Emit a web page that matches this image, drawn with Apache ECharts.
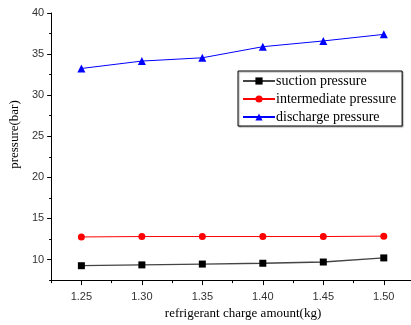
<!DOCTYPE html>
<html><head><meta charset="utf-8">
<script src="https://cdn.jsdelivr.net/npm/echarts@6/dist/echarts.min.js"></script>
<style>html,body{margin:0;padding:0;background:#fff}#c{width:411px;height:325px}</style>
</head><body><div id="c"></div>
<script>
const charge = [1.25, 1.30, 1.35, 1.40, 1.45, 1.50];
const suction = [9.25, 9.35, 9.45, 9.55, 9.7, 10.2];
const intermediate = [12.75, 12.8, 12.8, 12.8, 12.8, 12.85];
const discharge = [33.25, 34.15, 34.55, 35.9, 36.6, 37.4];
const xTickLabels = [1.25, 1.30, 1.35, 1.40, 1.45, 1.50];
const xMinorTicks = [1.225, 1.275, 1.325, 1.375, 1.425, 1.475];
const yTickLabels = [10, 15, 20, 25, 30, 35, 40];
const yMinorTicks = [7.5, 12.5, 17.5, 22.5, 27.5, 32.5, 37.5];

const labelStyle = {fontFamily: 'Liberation Sans, Arial', fontSize: 11, color: '#333'};
const nameStyle = {fontFamily: 'Liberation Serif, Times New Roman', fontSize: 13, color: '#000'};
const pair = a => a.map((v, i) => [charge[i], v]);

const chart = echarts.init(document.getElementById('c'), null, {renderer: 'canvas'});
chart.setOption({
  animation: false,
  grid: {left: 44, top: 13, right: 0, bottom: 38},
  xAxis: [{
    type: 'value', min: 1.225, max: 1.5225,
    name: 'refrigerant charge amount(kg)', nameLocation: 'middle', nameGap: 20,
    nameTextStyle: Object.assign({padding: [0, 0, 0, 24]}, nameStyle),
    axisLine: {show: true, lineStyle: {color: '#000', width: 1}},
    axisTick: {show: true, length: 5, customValues: xTickLabels, lineStyle: {color: '#000'}},
    axisLabel: Object.assign({customValues: xTickLabels, margin: 11,
      formatter: v => v.toFixed(2)}, labelStyle),
    splitLine: {show: false}
  }, {
    type: 'value', min: 1.225, max: 1.5225, position: 'bottom',
    axisLine: {show: false},
    axisTick: {show: true, length: 3, customValues: xMinorTicks, lineStyle: {color: '#000'}},
    axisLabel: {show: false}, splitLine: {show: false}
  }],
  yAxis: [{
    type: 'value', min: 7.5, max: 40,
    name: 'pressure(bar)', nameLocation: 'middle', nameGap: 25,
    nameTextStyle: Object.assign({padding: [0, 0, 0, 24]}, nameStyle),
    axisLine: {show: true, lineStyle: {color: '#000', width: 1}},
    axisTick: {show: true, length: 4, customValues: yTickLabels, lineStyle: {color: '#000'}},
    axisLabel: Object.assign({customValues: yTickLabels, margin: 7}, labelStyle),
    splitLine: {show: false}
  }, {
    type: 'value', min: 7.5, max: 40, position: 'left',
    axisLine: {show: false},
    axisTick: {show: true, length: 2, customValues: yMinorTicks, lineStyle: {color: '#000'}},
    axisLabel: {show: false}, splitLine: {show: false}
  }],
  legend: {
    orient: 'vertical', left: 238, top: 71, width: 167,
    padding: [3, 6, 2, 4], itemGap: 4, itemWidth: 32, itemHeight: 9,
    borderColor: '#000', borderWidth: 1, backgroundColor: '#fff',
    shadowColor: 'rgba(0,0,0,0.35)', shadowOffsetX: 1, shadowOffsetY: 1, shadowBlur: 1,
    textStyle: Object.assign({}, nameStyle, {fontSize: 14, padding: [0, 0, 0, -4]}),
    data: ['suction pressure', 'intermediate pressure', 'discharge pressure']
  },
  series: [
    {name: 'suction pressure', type: 'line', data: pair(suction),
     symbol: 'rect', symbolSize: 7, itemStyle: {color: '#000'},
     lineStyle: {color: '#444', width: 1.3}},
    {name: 'intermediate pressure', type: 'line', data: pair(intermediate),
     symbol: 'circle', symbolSize: 7, itemStyle: {color: '#ff0000'},
     lineStyle: {color: '#ff0000', width: 1}},
    {name: 'discharge pressure', type: 'line', data: pair(discharge),
     symbol: 'triangle', symbolSize: 8, itemStyle: {color: '#0000ff'},
     lineStyle: {color: '#0000ff', width: 1}}
  ]
});
</script></body></html>
